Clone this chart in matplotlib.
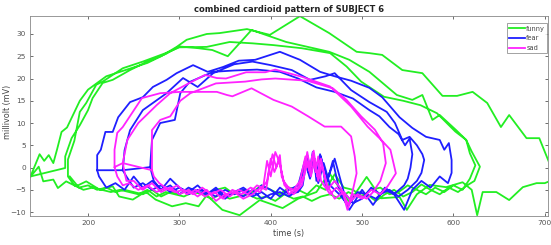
import matplotlib
matplotlib.use("Agg")
import matplotlib.pyplot as plt
import numpy as np

title = "combined cardioid pattern of SUBJECT 6"
xlabel = "time (s)"
ylabel = "millivolt (mV)"
labels = ["funny", "fear", "sad"]
colors = ["#22ee22", "#1f1fff", "#ff22ff"]
xticks = [200, 300, 400, 500, 600, 700]
yticks = [-10, -5, 0, 5, 10, 15, 20, 25, 30]

# ---- funny (green) loops ----
funny_x1 = [137,142,147,152,157,162,166,171,177,184,191,200,210,220,235,250,265,280,297,308,330,344,374,399,432,464,494,508,522,544,566,588,604,621,637,652,661,680,694,705,712,
            700,691,676,661,647,632,626,620,610,592,574,560,549,541,521,505,486,464,450,430,413,388,366,347,330,321,307,292,274,263,249,234,227,213,198,187,176,167,162,151,146,140,137]
funny_y1 = [-2,0.5,3,1.5,2.8,1,4,8,9,12,15,17.5,19,20.5,21.5,22.5,23.5,25,27.1,28.7,30,30.2,31.1,29.8,34,30.2,26,25.7,25.3,21.9,21.2,16.1,16.1,17,14.5,9.1,11.8,6.6,6.6,1,-2.5,
            -3.5,-3.5,-4.4,-7.3,-5.5,-5.5,-10.7,-5,-3.3,-4.4,-3.9,-6,-9.5,-6.6,-6.9,-2.1,-7.8,-1.2,-5.5,-7,-9.1,-7.3,-10.7,-9.5,-6.2,-8.7,-8,-8.7,-7.2,-5.4,-7.2,-6.5,-4.2,-5,-3.1,-4.2,-3.1,-4.6,-2.7,-3.1,0.2,-1.3,-2]
funny_x2 = [175,175,182,191,200,205,216,227,246,264,285,300,321,336,353,379,417,464,486,508,538,555,566,577,585,603,614,620,629,623,
            615,605,595,585,575,565,555,545,535,525,515,505,495,485,475,465,455,445,435,425,415,405,395,385,375,365,355,345,335,325,315,305,295,285,275,265,255,245,235,225,215,205,195,185,178]
funny_y2 = [-0.1,2.5,6.6,9.5,12.9,15.6,19,19.7,21.9,23.7,25.5,27.2,26.8,26.4,25,30.9,28.2,26,24.2,21.5,16.3,15.2,16.3,10.7,11.8,8.4,6.2,3.6,0.2,-3,
            -4,-5.5,-4.5,-6,-5,-3.8,-5.5,-6.5,-5,-6,-7.5,-6,-6.5,-5.5,-7,-6,-6.5,-7.5,-6.5,-7,-6,-7.5,-6.5,-7,-6,-6.5,-7,-6,-7,-6,-5.5,-6.5,-6,-5.5,-6.5,-5,-6,-5.5,-5,-5.5,-5,-4.5,-5,-4,-2]
funny_x3 = [178,178,185,191,198,209,216,238,260,285,300,330,355,380,403,434,465,483,499,524,545,564,582,602,614,618,624,618,
            610,600,590,580,570,560,550,540,530,520,510,500,490,480,470,460,450,440,430,420,410,400,390,380,370,360,350,340,330,320,310,300,290,280,270,260,250,240,230,220,210,200,190,180]
funny_y3 = [-0.5,1.8,6,12.5,14.5,18.6,19.3,22.3,23.8,25.7,27,27.1,28.2,27.9,27.5,26.8,25.7,22.7,19.3,15.9,15,14,12.2,8.1,6.2,3.2,0.5,-2.5,
            -5,-4,-5.5,-4.5,-6,-5,-4,-5.5,-6,-4.5,-5,-6.5,-5,-4.5,-1.5,-5,-4,-6,-5,-4.5,-6,-5,-4,-5.5,-5,-6,-4.5,-5,-6,-5.5,-5,-6,-5.5,-6.5,-5,-6,-5.5,-5,-5.5,-4.5,-5,-4,-4.5,-2]

# ---- fear (blue) loops ----
fear_x1 = [210,210,214,219,227,233,246,260,271,286,297,315,331,348,365,383,410,432,454,470,488,508,522,541,555,570,585,590,595,598,598,594,
           585,575,565,555,546,535,525,512,500,486,475,468,462,454,450,446,442,438,430,420,410,400,390,380,370,360,350,340,330,320,310,300,290,280,270,260,250,240,230,220,212,210]
fear_y1 = [-0.6,2.8,4,8,8,11.3,14.7,15.8,18.1,19.7,21.2,23,21.5,22.6,24,24.2,26,24.2,21.5,20.5,19.5,17.9,15.8,11.3,8.9,6.9,6.2,4,5.5,1.7,-1.2,-3.5,
           -2,-4.5,-3,-5,-9.5,-6,-4.5,-8.4,-5,-9.5,-5,1.5,-3,3,-2,3.5,-1.5,2,-4,-5,-6.5,-5,-4,-6,-4.5,-5.5,-6.5,-4.5,-6,-4,-5.5,-4.5,-2.5,-5,-3,-4.5,-2,-5,-3.5,-4.5,-2,-0.6]
fear_x2 = [238,240,246,260,286,304,320,337,360,380,400,423,443,460,470,488,508,527,536,544,552,560,566,568,565,560,
           550,540,530,520,510,500,490,480,470,460,455,450,447,444,440,435,430,420,410,400,390,380,370,360,350,340,330,320,310,300,290,280,270,260,250,242,238]
fear_y2 = [-0.6,3.9,8.4,12.9,16.7,20.1,18.1,21.2,23.2,23.8,23,21.9,19.7,20.5,21.2,17.4,14.7,12.5,10,6.2,6.9,5,3,1.7,-1.2,-3,
           -5,-6.5,-5,-6,-4.5,-7,-8,-5.5,2,-4,2.5,-3,3.2,-1,2.8,-4,-5.5,-6,-4.5,-7,-5.5,-6.5,-5,-6,-5,-6.5,-5.5,-5,-6,-4.5,-5.5,-4,-5,-3.5,-4.5,-2,-0.6]
fear_x3 = [268,270,279,295,301,311,337,360,385,410,430,450,470,490,508,519,530,540,547,552,555,553,550,546,
           535,525,515,505,495,485,475,465,458,452,448,443,438,430,420,410,400,390,380,370,360,350,340,330,320,310,300,290,280,272,268]
fear_y3 = [0.1,6.2,10,10.7,16.7,19.2,21.5,21.8,22,21.5,20,18,17,15.5,12.9,11.5,9.1,7.5,5,6.5,3,0,-2.5,-4,
           -6,-5,-7,-6,-5.5,-8.5,-6,-4,1,-3.5,2,-2.5,1,-5,-6.5,-5.5,-6,-7,-5,-6.5,-5.5,-7,-5,-6,-5.5,-4.5,-6,-4,-5,-3,0.1]

# ---- sad (magenta) loops ----
sad_x1 = [229,229,232,238,249,259,279,301,341,352,358,379,403,423,441,459,477,488,492,494,
          490,485,480,472,465,455,452,449,446,443,440,436,430,420,412,410,406,402,398,395,385,375,365,355,345,335,325,315,305,295,285,275,265,255,245,238,232,229]
sad_y1 = [0.1,4,7.8,9.1,12.5,15.6,16.7,17,17,16.3,16,17.8,15.2,13.7,11.5,9.2,9.2,7,2.5,-1.3,
          -5,-8.5,-6,-4.5,-6,-3,2.5,-1,3.2,0,3.5,-2,-4.5,-6,-2,2.8,0,3,-1,-5,-4,-6,-5,-6.5,-5,-6,-4.5,-6,-5,-5.5,-4.5,-5.5,-4,-5,-3.5,-4,-2,0.1]
sad_x2 = [238,243,255,275,290,311,328,341,351,373,394,405,434,465,488,506,521,531,537,528,
          520,510,500,490,484,478,470,462,455,451,447,443,438,432,425,415,410,405,400,396,392,380,370,360,350,340,330,320,310,300,290,280,270,260,250,242,238]
sad_y2 = [1,6.2,10,14,16.7,19,20.8,20.1,20,21.4,21.4,22,20.4,18.2,13.7,9.2,6.2,4,-1.3,-4.2,
          -6,-5,-7,-6,-9.5,-5,-3,-5,2,-2,3.8,-1,2.5,-3,-5,-4,1,3.5,-2,1.5,-4,-6,-7,-5.5,-6,-7.5,-5,-6.5,-5,-6,-4.5,-5.5,-3.5,-5,-3,-3,1]
sad_x3 = [270,270,270,279,290,301,312,340,372,390,405,440,468,483,499,514,523,526,520,
          512,505,495,488,480,470,462,456,452,448,444,440,434,425,414,409,404,400,396,388,378,368,358,348,338,328,318,308,298,288,278,272,270]
sad_y3 = [-0.6,4,8.4,10.7,11.5,15,16.7,18.9,19.3,19.8,20,19.5,17.8,15.2,11.5,8.5,5.5,1,-3,
          -5.5,-7,-6,-7.5,-5.5,-7,-4,0.5,-3,2,-2,1,-4,-6,-3,1.5,-1,2,-3,-5.5,-4.5,-6,-5,-7,-5.5,-6.5,-5,-6,-4,-5,-3.5,-2,-0.6]

series = [
    (labels[0], [funny_x1, funny_x2, funny_x3], [funny_y1, funny_y2, funny_y3]),
    (labels[1], [fear_x1, fear_x2, fear_x3], [fear_y1, fear_y2, fear_y3]),
    (labels[2], [sad_x1, sad_x2, sad_x3], [sad_y1, sad_y2, sad_y3]),
]

fig = plt.figure(figsize=(5.51, 2.45), dpi=100)
ax = fig.add_axes([0.0545, 0.118, 0.940, 0.816])

for (lab, xs, ys), col in zip(series, colors):
    x = np.concatenate([np.asarray(v, float) for v in xs])
    y = np.concatenate([np.asarray(v, float) for v in ys])
    ax.plot(x, y, color=col, lw=1.3, label=lab, solid_joinstyle="round")

ax.set_xlim(136.5, 703.5)
ax.set_ylim(-10.9, 34)
ax.set_xticks(xticks)
ax.set_yticks(yticks)
ax.tick_params(direction="in", length=2.5, width=0.6, labelsize=5.3,
               colors="#555555", top=True, right=True, pad=3)
for sp in ax.spines.values():
    sp.set_color("#888888")
    sp.set_linewidth(0.6)
ax.set_title(title, fontsize=6, fontweight="bold", color="#222222", pad=3)
ax.set_xlabel(xlabel, fontsize=5.8, color="#444444", labelpad=2)
ax.set_ylabel(ylabel, fontsize=5.8, color="#444444")
ax.yaxis.set_label_coords(-0.035, 0.52)

leg = ax.legend(loc="upper right", bbox_to_anchor=(0.999, 0.965), fontsize=4.8,
                frameon=True, fancybox=False, handlelength=2.4, handletextpad=0.2,
                borderpad=0.35, labelspacing=0.55, borderaxespad=0)
leg.get_frame().set_edgecolor("#777777")
leg.get_frame().set_linewidth(0.6)
for t in leg.get_texts():
    t.set_color("#444444")

fig.savefig("out.png", dpi=100, facecolor="white")
